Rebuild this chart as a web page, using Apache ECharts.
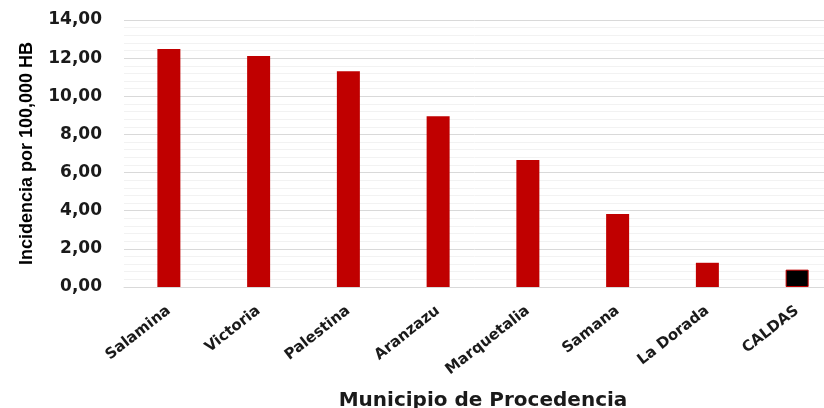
<!DOCTYPE html>
<html>
<head>
<meta charset="utf-8">
<script src="https://cdn.jsdelivr.net/npm/echarts@6/dist/echarts.min.js"></script>
<style>
html,body{margin:0;padding:0;background:#fff;overflow:hidden;}
#chart{width:824px;height:408px;}
</style>
</head>
<body>
<div id="chart"></div>
<script>
const categories = ['Salamina','Victoria','Palestina','Aranzazu','Marquetalia','Samana','La Dorada','CALDAS'];
const incidence = [12.48, 12.11, 11.31, 8.95, 6.66, 3.83, 1.27, 0.91];
const barColors = ['#c00000','#c00000','#c00000','#c00000','#c00000','#c00000','#c00000','#000000'];
const yTickLabels = ['0,00','2,00','4,00','6,00','8,00','10,00','12,00','14,00'];
const yAxisTitle = 'Incidencia por 100,000 HB';
const xAxisTitle = 'Municipio de Procedencia';

const chart = echarts.init(document.getElementById('chart'), null, {renderer:'canvas'});
chart.setOption({
  animation:false,
  backgroundColor:'#ffffff',
  grid:{left:124, right:-18, top:20, bottom:121, outerBoundsMode:'none', containLabel:false},
  xAxis:{
    type:'category',
    data:categories,
    axisLine:{show:true, lineStyle:{color:'#d9d9d9', width:1}},
    axisTick:{show:false},
    axisLabel:{
      interval:0, rotate:38, margin:22,
      color:'#1a1a1a', fontFamily:'DejaVu Sans', fontWeight:'bold', fontSize:15
    },
    name:xAxisTitle,
    nameLocation:'middle',
    nameGap:104,
    nameTextStyle:{color:'#1a1a1a', fontFamily:'DejaVu Sans', fontWeight:'bold', fontSize:20}
  },
  yAxis:{
    type:'value', min:0, max:14, interval:2,
    axisLine:{show:false}, axisTick:{show:false},
    splitLine:{show:true, lineStyle:{color:'#d9d9d9', width:1}},
    minorTick:{show:false, splitNumber:5},
    minorSplitLine:{show:true, lineStyle:{color:'#f2f2f2', width:1}},
    axisLabel:{
      margin:22, color:'#1a1a1a', fontFamily:'DejaVu Sans', fontWeight:'bold', fontSize:17,
      formatter:function(v){ return yTickLabels[Math.round(v/2)]; }
    },
    name:yAxisTitle,
    nameLocation:'middle',
    nameGap:88,
    nameRotate:90,
    nameTextStyle:{color:'#000000', fontFamily:'Liberation Sans', fontWeight:'bold', fontSize:18}
  },
  series:[{
    type:'bar',
    data:incidence.map(function(v,i){ return {value:v, itemStyle:{color:barColors[i], borderColor:'#c00000', borderWidth: i===7?1:0}}; }),
    barWidth:23
  }]
});
</script>
</body>
</html>
